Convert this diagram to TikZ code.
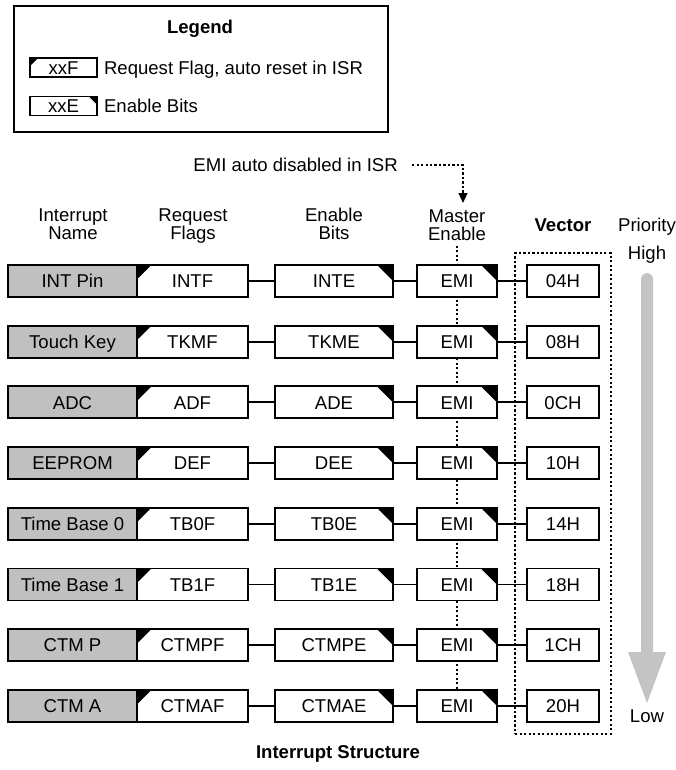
\documentclass[tikz,border=0pt]{standalone}
\usepackage{fontspec}
\setmainfont{Liberation Sans}
\usepackage{tikz}
\usetikzlibrary{
  arrows.meta,
  positioning,
  fit,
  backgrounds,
}
\definecolor{nameFill}{HTML}{C0C0C0}
\definecolor{prioGray}{HTML}{C4C4C4}
\tikzset{
  cornerNW/.style={
    path picture={\fill[black] (path picture bounding box.north west)
      -- ++(#1,0) -- ++(-#1,-#1) -- cycle;},
  },
  cornerNE/.style={
    path picture={\fill[black] (path picture bounding box.north east)
      -- ++(-#1,0) -- ++(#1,-#1) -- cycle;},
  },
  cellbox/.style={
    rectangle, draw=black, line width=1.4pt, fill=white, inner sep=0pt,
    minimum height=0.8cm, text height=1.6ex, text depth=0.25ex,
  },
  namebox/.style={cellbox, fill=nameFill, minimum width=3.225cm},
  flagbox/.style={cellbox, minimum width=2.775cm, cornerNW=0.36cm},
  enbox/.style={cellbox, minimum width=2.95cm, cornerNE=0.4cm},
  emibox/.style={cellbox, minimum width=2cm, cornerNE=0.4cm},
  vecbox/.style={cellbox, minimum width=1.8cm},
  keybox/.style={
    cellbox, line width=1.1pt, minimum width=1.675cm, minimum height=0.475cm,
  },
  lbl/.style={inner sep=0pt, text height=1.6ex, text depth=0.25ex},
  hd/.style={inner sep=0pt, text depth=0pt},
  wire/.style={line width=1.4pt},
  dotline/.style={line width=1.2pt, dash pattern=on 1.6pt off 1.6pt},
  emiArrow/.style={
    dotline, -{Triangle[length=0.25cm,width=0.22cm]},
  },
  vecgroup/.style={draw, dotline, inner sep=0.27cm},
}

\begin{document}
\fontsize{13.2}{12.8}\selectfont
\begin{tikzpicture}[every node/.style={align=center}]
\useasboundingbox (0,0) rectangle (16.9,-19.25);

% legend
\draw[line width=1.4pt] (0.35,-0.15) rectangle (9.7,-3.3);
\node[lbl, font=\bfseries] (lgTitle) at (5.0,-0.675) {Legend};
\node[keybox, cornerNW=0.2cm] (keyF) at (1.5875,-1.6875) {xxF};
\node[lbl, right=0.15cm of keyF] (keyFtxt) {Request Flag, auto reset in ISR};
\node[keybox, cornerNE=0.2cm] (keyE) at (1.5875,-2.65) {xxE};
\node[lbl, right=0.15cm of keyE] (keyEtxt) {Enable Bits};

% column headings
\node[hd] (hdName) at (1.825,-5.6) {Interrupt\\Name};
\node[hd] (hdFlag) at (4.825,-5.6) {Request\\Flags};
\node[hd] (hdEn) at (8.35,-5.6) {Enable\\Bits};
\node[hd] (hdMaster) at (11.425,-5.63) {Master\\Enable};
\node[lbl, font=\bfseries] (hdVec) at (14.075,-5.625) {Vector};
\node[lbl] (hdPrio) at (16.175,-5.625) {Priority};
\node[lbl] (hdHigh) at (16.175,-6.325) {High};
\node[lbl] (hdLow) at (16.175,-17.9) {Low};

\node[lbl, anchor=east] (isrNote) at (9.95,-4.125) {EMI auto disabled in ISR};
\coordinate (isrTip) at (11.575,-5.075);
\draw[emiArrow, shorten <=0.35cm] (isrNote.east) -| (isrTip);

\foreach \i/\irq/\flg/\enb/\vaddr in {%
  0/INT Pin/INTF/INTE/04H,%
  1/Touch Key/TKMF/TKME/08H,%
  2/ADC/ADF/ADE/0CH,%
  3/EEPROM/DEF/DEE/10H,%
  4/Time Base 0/TB0F/TB0E/14H,%
  5/Time Base 1/TB1F/TB1E/18H,%
  6/CTM P/CTMPF/CTMPE/1CH,%
  7/CTM A/CTMAF/CTMAE/20H%
}
{
  \pgfmathsetmacro{\ypos}{-7.025-\i*1.5175}
  \node[namebox] (nm\i) at (1.8125,\ypos) {\irq};
  \node[flagbox] (fl\i) at (4.8125,\ypos) {\flg};
  \node[enbox] (en\i) at (8.35,\ypos) {\enb};
  \node[emibox] (em\i) at (11.425,\ypos) {EMI};
  \node[vecbox] (vc\i) at (14.075,\ypos) {\vaddr};
  \draw[wire] (fl\i) -- (en\i);
  \draw[wire] (en\i) -- (em\i);
  \draw[wire] (em\i) -- (vc\i);
}

\begin{scope}[on background layer]
  \draw[dotline] ([yshift=-0.12cm]hdMaster.south) -- (em7.north);
\end{scope}

\node[vecgroup, fit=(vc0)(vc7)] (vecGrp) {};

% priority arrow
\fill[prioGray] (16.025,-16.3) -- (16.025,-6.975)
  arc[start angle=180, end angle=0, radius=0.15]
  -- (16.325,-16.3) -- (16.65,-16.3) -- (16.175,-17.575)
  -- (15.7,-16.3) -- cycle;

\node[lbl, font=\bfseries] (title) at (8.45,-18.8) {Interrupt Structure};

\end{tikzpicture}
\end{document}
